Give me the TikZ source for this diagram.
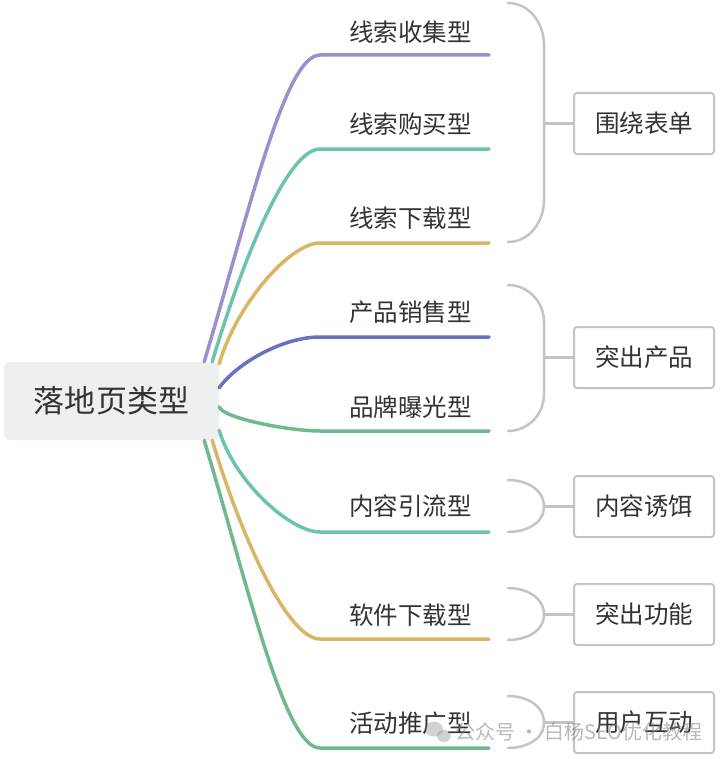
\documentclass[tikz,border=0pt]{standalone}
\usepackage{fontspec}
\setmainfont{Noto Sans CJK SC}
\usetikzlibrary{calc}
\definecolor{txt}{HTML}{333333}
\definecolor{cpurple}{HTML}{9C8FD0}
\definecolor{cteal}{HTML}{6CC4AE}
\definecolor{cgold}{HTML}{D9B665}
\definecolor{cblue}{HTML}{6673C0}
\definecolor{cgreen}{HTML}{70B98C}
\definecolor{cbrace}{HTML}{C4C4C4}
\definecolor{rootfill}{HTML}{EEF0F0}
\tikzset{
  lbl/.style={anchor=east, inner sep=0pt, text=txt, font=\fontsize{24.5bp}{28bp}\selectfont},
  branch/.style={line width=3.5bp, line cap=round},
  bracestyle/.style={draw=cbrace, line width=2.5bp, line cap=round},
  sumbox/.style={draw=cbrace, line width=2bp, fill=white, rounded corners=3bp,
    minimum width=140bp, minimum height=61bp, inner sep=0pt, text=txt,
    font=\fontsize{24.5bp}{28bp}\selectfont},
  rootbox/.style={fill=rootfill, rounded corners=6bp, minimum width=215bp,
    minimum height=78bp, inner sep=0pt, text=txt, font=\fontsize{31bp}{36bp}\selectfont}
}
\begin{document}
\begin{tikzpicture}[x=1bp,y=-1bp]
\useasboundingbox (0,0) rectangle (720,759);
\fill[white] (0,0) rectangle (720,759);

% root
\node[rootbox] (root) at (111.5,401) {落地页类型};

% branch labels
\node[lbl] (t1) at (472,32) {线索收集型};
\node[lbl] (t2) at (472,124) {线索购买型};
\node[lbl] (t3) at (472,218) {线索下载型};
\node[lbl] (t4) at (472,312) {产品销售型};
\node[lbl] (t5) at (472,407) {品牌曝光型};
\node[lbl] (t6) at (472,506) {内容引流型};
\node[lbl] (t7) at (472,615) {软件下载型};
\node[lbl] (t8) at (472,723) {活动推广型};

% connector start points on root
\coordinate (s1) at ([xshift=-15bp]root.north east);
\coordinate (s2) at ([xshift=-7bp]root.north east);
\coordinate (s3) at ([yshift=-2bp]root.north east);
\coordinate (s4) at ([yshift=-26bp]root.north east);
\coordinate (s5) at ([yshift=-45bp]root.north east);
\coordinate (s6) at ([yshift=10bp]root.south east);
\coordinate (s7) at ([xshift=-7bp]root.south east);
\coordinate (s8) at ([xshift=-15bp]root.south east);
% connector ends (underline ends)
\coordinate (e1) at (489,55);
\coordinate (e2) at (489,149);
\coordinate (e3) at (489,243);
\coordinate (e4) at (489,337);
\coordinate (e5) at (489,431);
\coordinate (e6) at (489,532);
\coordinate (e7) at (489,639);
\coordinate (e8) at (489,748);

\draw[branch, cpurple] (s1) .. controls (250,208.5) and (285,55) .. (320,55) -- (e1);
\draw[branch, cteal]   (s2) .. controls (244,255.5) and (288,149) .. (320,149) -- (e2);
\draw[branch, cgold]   (s3) .. controls (237,303.5) and (290,243) .. (320,243) -- (e3);
\draw[branch, cblue]   (s4) .. controls (236,364) and (282,337) .. (320,337) -- (e4);
\draw[branch, cgreen]  (s5) .. controls (223,418.5) and (290,431) .. (320,431) -- (e5);
\draw[branch, cteal]   (s6) .. controls (234,481) and (290,532) .. (320,532) -- (e6);
\draw[branch, cgold]   (s7) .. controls (242,539.5) and (288,639) .. (320,639) -- (e7);
\draw[branch, cgreen]  (s8) .. controls (250,594) and (285,748) .. (320,748) -- (e8);

% summary boxes
\node[sumbox] (g1) at (644,123.5) {围绕表单};
\node[sumbox] (g2) at (644,357.5) {突出产品};
\node[sumbox] (g3) at (644,506.5) {内容诱饵};
\node[sumbox] (g4) at (644,614.5) {突出功能};
\node[sumbox] (g5) at (644,722.5) {用户互动};

% braces
\draw[bracestyle] (508,3) to[out=0,in=90] (544,45) -- (544,200) to[out=-90,in=0] (508,242);
\coordinate (m1) at (544,123.5);
\draw[bracestyle] (m1) -- (g1.west);

\draw[bracestyle] (508,285) to[out=0,in=90] (544,322) -- (544,394) to[out=-90,in=0] (508,431);
\coordinate (m2) at (544,357.5);
\draw[bracestyle] (m2) -- (g2.west);

\draw[bracestyle] (508,480) to[out=0,in=90] (544,506.5) to[out=-90,in=0] (508,532);
\coordinate (m3) at (544,506.5);
\draw[bracestyle] (m3) -- (g3.west);

\draw[bracestyle] (508,588) to[out=0,in=90] (544,614.5) to[out=-90,in=0] (508,640);
\coordinate (m4) at (544,614.5);
\draw[bracestyle] (m4) -- (g4.west);

\draw[bracestyle] (508,696) to[out=0,in=90] (544,722.5) to[out=-90,in=0] (508,748);
\coordinate (m5) at (544,722.5);
\draw[bracestyle] (m5) -- (g5.west);

% watermark
\fill[gray, opacity=0.35] (434,729) ellipse [x radius=9bp, y radius=7.5bp];
\fill[gray, opacity=0.35] (444,736) ellipse [x radius=7bp, y radius=6bp];
\node[anchor=west, inner sep=0pt, text=gray, opacity=0.55,
  font=\fontsize{20bp}{24bp}\selectfont] (wm) at (455,732) {公众号 · 白杨SEO优化教程};
\end{tikzpicture}
\end{document}
